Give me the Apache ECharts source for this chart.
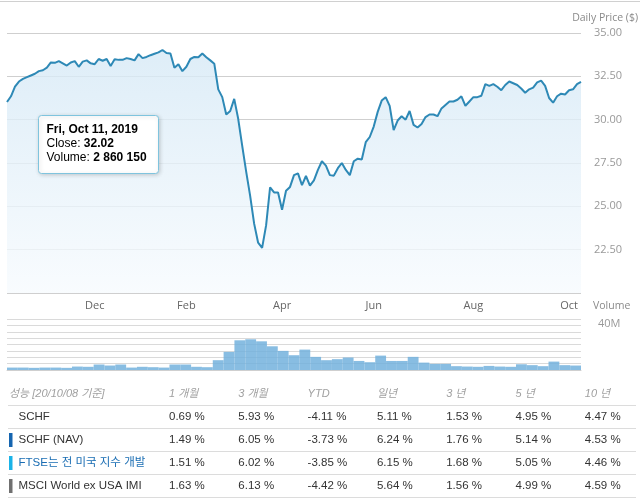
<!DOCTYPE html>
<html>
<head>
<meta charset="utf-8">
<script src="https://cdn.jsdelivr.net/npm/echarts@6/dist/echarts.min.js"></script>
<style>
  html, body { margin: 0; padding: 0; background: #fff; }
  #chart { width: 643px; height: 504px; }
</style>
</head>
<body>
<div id="chart"></div>
<script>
// sampled trading days (one point every ~2 sessions)
const dates = [
  '2019-10-09','2019-10-11','2019-10-14','2019-10-16','2019-10-18','2019-10-21','2019-10-23','2019-10-25',
  '2019-10-28','2019-10-30','2019-11-01','2019-11-04','2019-11-06','2019-11-08','2019-11-11','2019-11-13',
  '2019-11-15','2019-11-18','2019-11-20','2019-11-22','2019-11-25','2019-11-27',
  '2019-12-02','2019-12-04','2019-12-06','2019-12-09','2019-12-11','2019-12-13','2019-12-16','2019-12-18',
  '2019-12-20','2019-12-23','2019-12-27','2019-12-31','2020-01-03','2020-01-06','2020-01-08','2020-01-10',
  '2020-01-13','2020-01-15','2020-01-17','2020-01-22','2020-01-24','2020-01-27','2020-01-29',
  '2020-02-03','2020-02-05','2020-02-07','2020-02-10','2020-02-12','2020-02-14','2020-02-18','2020-02-20',
  '2020-02-24','2020-02-26','2020-02-28','2020-03-02','2020-03-04','2020-03-06','2020-03-09','2020-03-11',
  '2020-03-13','2020-03-16','2020-03-18','2020-03-20','2020-03-23','2020-03-25','2020-03-27','2020-03-30',
  '2020-04-01','2020-04-03','2020-04-06','2020-04-08','2020-04-13','2020-04-15','2020-04-17','2020-04-20',
  '2020-04-22','2020-04-24','2020-04-27','2020-04-29','2020-05-01','2020-05-04','2020-05-06','2020-05-08',
  '2020-05-11','2020-05-13','2020-05-15','2020-05-18','2020-05-20','2020-05-22','2020-05-27',
  '2020-06-01','2020-06-03','2020-06-05','2020-06-08','2020-06-10','2020-06-12','2020-06-15','2020-06-17',
  '2020-06-19','2020-06-22','2020-06-24','2020-06-26','2020-06-29','2020-07-01','2020-07-06','2020-07-08',
  '2020-07-10','2020-07-13','2020-07-15','2020-07-17','2020-07-20','2020-07-22','2020-07-24','2020-07-27',
  '2020-07-29',
  '2020-08-03','2020-08-05','2020-08-07','2020-08-10','2020-08-12','2020-08-14','2020-08-17','2020-08-19',
  '2020-08-21','2020-08-24','2020-08-26','2020-08-28','2020-08-31','2020-09-02','2020-09-04','2020-09-09',
  '2020-09-11','2020-09-14','2020-09-16','2020-09-18','2020-09-21','2020-09-23','2020-09-25','2020-09-28',
  '2020-10-01','2020-10-05','2020-10-07','2020-10-08'
];

const closes = [
  31.02, 31.35, 31.9, 32.2, 32.35, 32.45, 32.55, 32.65, 32.8, 32.85,
  33.0, 33.3, 33.28, 33.38, 33.25, 33.12, 33.3, 33.38, 33.05, 33.35,
  33.42, 33.25, 33.2, 33.5, 33.4, 33.5, 33.1, 33.48, 33.45, 33.45,
  33.55, 33.5, 33.42, 33.78, 33.55, 33.62, 33.72, 33.8, 33.88, 34.02,
  33.85, 33.82, 33.0, 33.2, 32.8, 33.05, 33.5, 33.62, 33.6, 33.82,
  33.6, 33.42, 33.23, 31.75, 31.3, 30.3, 30.5, 31.2, 30.05, 28.5,
  27.0, 25.6, 24.0, 22.9, 22.6, 23.9, 26.1, 25.8, 25.8, 24.8,
  25.9, 26.12, 26.8, 26.9, 26.22, 26.75, 26.2, 26.5, 27.1, 27.6,
  27.35, 26.8, 26.77, 27.2, 27.5, 27.1, 26.8, 27.6, 27.75, 27.7,
  28.7, 29.0, 29.6, 30.45, 31.1, 31.3, 30.8, 29.4, 29.95, 30.2,
  30.0, 30.5, 29.7, 29.55, 29.75, 30.15, 30.3, 30.3, 30.2, 30.65,
  30.85, 31.05, 31.05, 31.15, 31.35, 30.8, 31.05, 31.3, 31.3, 31.38,
  32.05, 31.95, 32.05, 31.9, 31.7, 32.0, 32.2, 32.1, 32.0, 31.8,
  31.55, 31.75, 31.85, 32.15, 32.25, 31.95, 31.25, 30.98, 31.35, 31.5,
  31.45, 31.7, 31.75, 32.05, 32.18
];

const monthTickDates = ['2019-12-02', '2020-02-03', '2020-04-01', '2020-06-01', '2020-08-03', '2020-10-01'];
const monthTickLabels = ['Dec', 'Feb', 'Apr', 'Jun', 'Aug', 'Oct'];

// weekly volume (millions of shares)
const volumeWeeks = [
  '2019-10-07','2019-10-14','2019-10-21','2019-10-28','2019-11-04','2019-11-11','2019-11-18','2019-11-25',
  '2019-12-02','2019-12-09','2019-12-16','2019-12-23','2019-12-30','2020-01-06','2020-01-13','2020-01-20',
  '2020-01-27','2020-02-03','2020-02-10','2020-02-17','2020-02-24','2020-03-02','2020-03-09','2020-03-16',
  '2020-03-23','2020-03-30','2020-04-06','2020-04-13','2020-04-20','2020-04-27','2020-05-04','2020-05-11',
  '2020-05-18','2020-05-25','2020-06-01','2020-06-08','2020-06-15','2020-06-22','2020-06-29','2020-07-06',
  '2020-07-13','2020-07-20','2020-07-27','2020-08-03','2020-08-10','2020-08-17','2020-08-24','2020-08-31',
  '2020-09-07','2020-09-14','2020-09-21','2020-09-28','2020-10-05'
];
const volumes = [
  1.9, 1.9, 1.7, 1.9, 1.9, 1.7, 2.7, 2.5, 4.3, 3.5,
  4.3, 1.9, 2.5, 2.2, 1.9, 4.3, 4.3, 2.5, 2.2, 7.7,
  14.2, 23.3, 24.1, 22.5, 18.6, 15.0, 11.6, 16.0, 10.3, 7.7,
  8.5, 9.8, 7.1, 6.1, 11.3, 7.1, 7.1, 10.3, 5.8, 4.8,
  4.8, 3.0, 2.7, 2.5, 3.2, 2.7, 2.5, 4.5, 3.8, 3.0,
  6.6, 3.8, 3.5
];

// hovered point shown in the tooltip box
const tipDate = 'Fri, Oct 11, 2019';
const tipClose = '32.02';
const tipVolume = '2 860 150';

// performance table
const perfHeaders = ['성능 [20/10/08 기준]', '1 개월', '3 개월', 'YTD', '일년', '3 년', '5 년', '10 년'];
const perfNames = ['SCHF', 'SCHF (NAV)', 'FTSE는 전 미국 지수 개발', 'MSCI World ex USA IMI'];
const perf1M = [0.69, 1.49, 1.51, 1.63];
const perf3M = [5.93, 6.05, 6.02, 6.13];
const perfYTD = [-4.11, -3.73, -3.85, -4.42];
const perf1Y = [5.11, 6.24, 6.15, 5.64];
const perf3Y = [1.53, 1.76, 1.68, 1.56];
const perf5Y = [4.95, 5.14, 5.05, 4.99];
const perf10Y = [4.47, 4.53, 4.46, 4.59];

const chart = echarts.init(document.getElementById('chart'));

const tableFont = 'Liberation Sans, Arial, Noto Sans CJK KR, sans-serif';
const markerColors = [null, '#1565b0', '#1ab3e8', '#707070'];
const nameColors = ['#333', '#333', '#1a6db3', '#333'];
const perfCols = [perf1M, perf3M, perfYTD, perf1Y, perf3Y, perf5Y, perf10Y];
const colX = (j) => 169 + j * 69.3;
const headerY = 394;
const rowY = (r) => 417 + r * 23;

const tableGraphics = [];
perfHeaders.forEach((h, j) => {
  tableGraphics.push({
    type: 'text',
    x: j === 0 ? 9 : colX(j - 1),
    y: headerY,
    style: {
      text: h, fill: '#a0a0a0', fontSize: 11, fontStyle: 'italic',
      fontFamily: tableFont, verticalAlign: 'middle'
    }
  });
});
for (let r = 0; r <= perfNames.length; r++) {
  tableGraphics.push({
    type: 'line',
    shape: { x1: 8, y1: 405.5 + r * 23, x2: 636, y2: 405.5 + r * 23 },
    style: { stroke: '#dcdcdc', lineWidth: 1 }
  });
}
perfNames.forEach((name, r) => {
  if (markerColors[r]) {
    tableGraphics.push({
      type: 'rect',
      shape: { x: 9, y: rowY(r) - 7, width: 3.5, height: 14 },
      style: { fill: markerColors[r] }
    });
  }
  tableGraphics.push({
    type: 'text', x: 18.5, y: rowY(r),
    style: { text: name, fill: nameColors[r], fontSize: 11.5, fontFamily: tableFont, verticalAlign: 'middle' }
  });
  perfCols.forEach((col, j) => {
    tableGraphics.push({
      type: 'text', x: colX(j), y: rowY(r),
      style: {
        text: col[r].toFixed(2) + ' %', fill: '#333', fontSize: 11.5,
        fontFamily: tableFont, verticalAlign: 'middle'
      }
    });
  });
});

const option = {
  animation: false,
  textStyle: { fontFamily: 'Open Sans, Noto Sans CJK KR, sans-serif' },
  title: [
    {
      text: 'Daily Price ($)', right: 5, top: 13, padding: 0,
      textStyle: { fontSize: 10.5, color: '#8a8a8a', fontWeight: 'normal' }
    },
    {
      text: 'Volume', left: 593, top: 301, padding: 0,
      textStyle: { fontSize: 10.5, color: '#8a8a8a', fontWeight: 'normal' }
    }
  ],
  grid: [
    { left: 7, right: 62, top: 33, height: 260 },
    { left: 7, right: 62, top: 319, height: 51 }
  ],
  xAxis: [
    {
      gridIndex: 0,
      type: 'category',
      data: dates,
      boundaryGap: false,
      axisLine: { show: false },
      axisTick: { show: false },
      splitLine: { show: false },
      axisLabel: {
        interval: (i, v) => monthTickDates.includes(v),
        formatter: (v) => monthTickLabels[monthTickDates.indexOf(v)],
        color: '#666', fontSize: 11, margin: 7
      }
    },
    {
      gridIndex: 1,
      type: 'category',
      data: volumeWeeks,
      position: 'top',
      offset: 2,
      axisLine: { lineStyle: { color: '#cfcfcf' } },
      axisTick: { show: false },
      axisLabel: { show: false }
    }
  ],
  yAxis: [
    {
      gridIndex: 0,
      type: 'value',
      position: 'right',
      min: 20, max: 35, interval: 2.5,
      axisLabel: {
        formatter: (v) => (v === 20 ? '' : v.toFixed(2)),
        color: '#999', fontSize: 11, margin: 13
      },
      splitLine: { lineStyle: { color: '#cfcfcf' } }
    },
    {
      gridIndex: 1,
      type: 'value',
      position: 'right',
      min: 0, max: 40, interval: 5,
      axisLabel: {
        formatter: (v) => (v === 40 ? '40M' : ''),
        color: '#999', fontSize: 11, margin: 17, verticalAlign: 'top', lineHeight: 10
      },
      splitLine: { lineStyle: { color: '#dadada' } }
    }
  ],
  series: [
    {
      type: 'line',
      xAxisIndex: 0, yAxisIndex: 0,
      data: closes,
      showSymbol: false,
      lineStyle: { color: '#2e89b6', width: 2 },
      areaStyle: {
        origin: 'start',
        opacity: 0.8,
        color: new echarts.graphic.LinearGradient(0, 0, 0, 1, [
          { offset: 0, color: '#d6e9f6' },
          { offset: 1, color: '#f7fbfe' }
        ])
      }
    },
    {
      type: 'bar',
      xAxisIndex: 1, yAxisIndex: 1,
      data: volumes,
      barCategoryGap: '0%',
      itemStyle: { color: 'rgba(110,174,220,0.82)' }
    }
  ],
  graphic: [
    {
      type: 'line',
      shape: { x1: 0, y1: 1.5, x2: 640, y2: 1.5 },
      style: { stroke: '#d0d0d0', lineWidth: 1 }
    },
    {
      type: 'group',
      left: 38, top: 115,
      z: 100,
      children: [
        {
          type: 'rect',
          z: 100,
          shape: { x: 0, y: 0, width: 120, height: 58, r: 3 },
          style: {
            fill: '#ffffff', stroke: '#7fc4de', lineWidth: 1,
            shadowBlur: 4, shadowColor: 'rgba(0,0,0,0.18)', shadowOffsetX: 1, shadowOffsetY: 1
          }
        },
        {
          type: 'text',
          z: 101,
          x: 8, y: 7,
          style: {
            text: '{b|' + tipDate + '}\n{n|Close: }{b|' + tipClose + '}\n{n|Volume: }{b|' + tipVolume + '}',
            rich: {
              b: { fontWeight: 'bold', fontSize: 12, color: '#333', lineHeight: 14 },
              n: { fontSize: 12, color: '#333', lineHeight: 14 }
            },
            fontFamily: 'Open Sans, sans-serif'
          }
        }
      ]
    }
  ].concat(tableGraphics)
};

chart.setOption(option);
</script>
</body>
</html>
